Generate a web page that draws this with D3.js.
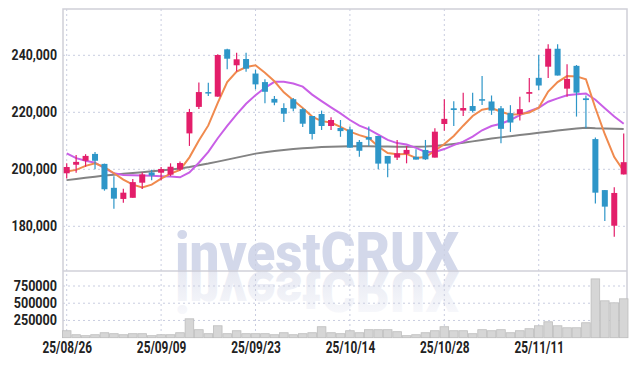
<!DOCTYPE html>
<html>
<head>
<meta charset="utf-8">
<script src="https://cdn.jsdelivr.net/npm/d3@7"></script>
<style>
  body { margin: 0; background: #fff; }
  .lbl text { font-family: Roboto, 'DejaVu Sans', sans-serif; fill: #222; font-weight: bold; }
</style>
</head>
<body>
<div id="chart"></div>
<script>
const dates = ['25/08/26','25/08/27','25/08/28','25/08/29','25/09/01','25/09/02','25/09/03','25/09/04','25/09/05','25/09/08',
  '25/09/09','25/09/10','25/09/11','25/09/12','25/09/15','25/09/16','25/09/17','25/09/18','25/09/19','25/09/22',
  '25/09/23','25/09/24','25/09/25','25/09/26','25/09/29','25/09/30','25/10/01','25/10/02','25/10/10','25/10/13',
  '25/10/14','25/10/15','25/10/16','25/10/17','25/10/20','25/10/21','25/10/22','25/10/23','25/10/24','25/10/27',
  '25/10/28','25/10/29','25/10/30','25/10/31','25/11/03','25/11/04','25/11/05','25/11/06','25/11/07','25/11/10',
  '25/11/11','25/11/12','25/11/13','25/11/14','25/11/17','25/11/18','25/11/19','25/11/20','25/11/21','25/11/24'];

const opens = [198600,201600,203000,205400,201900,193500,189600,190000,195300,198900,
  198800,198100,199900,212600,221900,227100,225500,242100,236500,238700,
  233600,230600,224700,221500,224600,221100,218700,219400,215200,214500,
  214000,209600,211300,211700,204700,204100,205400,204400,206800,204100,
  215900,221400,220600,222200,224600,223800,221400,219700,219400,226500,
  232100,236000,242300,228300,236300,224900,210600,192700,180200,198200];
const highs = [202100,205000,205300,206100,202000,197600,193200,196600,198900,199800,
  200800,202100,202700,221200,230500,230400,240400,242300,240900,240900,
  234900,231600,225700,223200,225000,221500,218700,220600,218300,217300,
  215000,210300,215000,211700,204700,210300,208200,207000,210300,214400,
  224600,223900,226900,226900,232700,225900,222200,222500,225500,232000,
  240100,243900,243900,236900,236600,225900,211200,192700,193700,212600];
const lows = [196800,198800,200900,200000,192500,186200,188300,190000,193100,196200,
  196200,197600,199500,208200,221200,225700,225500,235100,234300,234200,
  228100,223200,222500,216600,220400,214800,210500,213800,213800,211400,
  207600,204400,208200,200000,197200,203300,202100,203400,203300,204100,
  213500,215200,218700,219900,222600,219100,209100,213100,217100,223500,
  227800,232000,232900,225500,218500,214400,188000,181900,176300,198200];
const closes = [200800,202600,204700,203000,193000,189700,191800,195500,198200,197800,
  200100,200900,202200,220100,227100,226900,240100,238800,238600,235300,
  229800,227200,223400,219500,221300,216000,212400,215200,217300,213400,
  207600,206500,210400,202000,202000,205600,206800,203400,203500,213200,
  217700,220800,221500,220500,224200,220600,214200,216400,221100,227100,
  229400,242300,232900,231700,226900,224300,191800,186900,191700,202500];
const volumes = [101000,43000,29000,43000,72000,58000,43000,58000,58000,29000,
  43000,43000,72000,274000,116000,58000,173000,58000,101000,58000,
  58000,58000,43000,72000,43000,58000,72000,159000,72000,58000,
  101000,72000,116000,116000,116000,87000,29000,43000,72000,101000,
  159000,101000,101000,58000,116000,101000,116000,72000,101000,130000,
  173000,231000,173000,144000,144000,217000,853000,535000,506000,564000];

const ma5 = [199200,199800,201200,202100,200800,198600,196400,194600,193600,194600,
  196700,198500,199800,204200,210100,215400,223300,230600,234300,235900,
  236500,233900,230900,227000,224200,221500,218500,216900,216400,214900,
  213200,212000,211000,208000,205700,205300,205400,204000,204300,206500,
  208900,211700,215300,218700,220900,221500,220200,219200,219300,219900,
  221600,227300,230600,232700,232600,231600,221500,212300,204300,199400];
const ma10 = [205600,203900,203000,202300,200400,198600,198000,197900,197800,197700,
  197600,197500,197200,198900,202300,206100,210900,215200,219300,223000,
  226000,228600,230700,230700,230100,229000,226200,223900,221700,219600,
  217300,215300,214000,212200,210300,209200,208700,207500,206100,206100,
  207100,208500,209700,211500,213700,215200,216000,217300,219000,220400,
  221600,223700,224900,226000,226300,226600,224400,221400,218500,216000];
const maLong = [196200,196600,197000,197400,197800,198100,198400,198700,199000,199300,
  199600,199900,200300,200800,201400,202000,202700,203400,204100,204800,
  205500,206000,206400,206800,207100,207400,207600,207800,207900,208000,
  208100,208100,208100,208000,208000,207900,207900,207900,208000,208200,
  208500,208900,209300,209800,210300,210800,211200,211600,212000,212400,
  212800,213200,213600,214000,214300,214600,214400,214300,214200,214100];

const priceTicks = [180000, 200000, 220000, 240000];
const volTicks = [250000, 500000, 750000];
const dateTicks = [0, 10, 20, 30, 40, 50];

const width = 637, height = 366;
const plotL = 63, plotR = 627, plotT = 9, plotMid = 271, plotB = 337.7;

const svg = d3.select('#chart').append('svg')
  .attr('width', width).attr('height', height);

const x = d3.scaleLinear().domain([0, 59]).range([66.7, 623.7]);
const y = d3.scaleLinear().domain([180000, 240000]).range([226.3, 55.3]);
const yv = d3.scaleLinear().domain([0, 750000]).range([plotB, 286]);

// fading gradient for the watermark reflection
const grad = svg.append('defs').append('linearGradient')
  .attr('id', 'fade').attr('x1', 0).attr('x2', 0).attr('y1', 0).attr('y2', 1);
grad.append('stop').attr('offset', '0%').attr('stop-color', '#fbfbfd');
grad.append('stop').attr('offset', '100%').attr('stop-color', '#e2e5f0');

// watermark + reflection
const wm = svg.append('g').style('font-family', 'Roboto, Arial, sans-serif')
  .style('font-weight', '900').style('font-size', '56px');
wm.append('text')
  .attr('x', 175).attr('y', 272)
  .attr('textLength', 284).attr('lengthAdjust', 'spacingAndGlyphs')
  .style('fill', '#d3d8ea')
  .text('investCRUX');
wm.append('text')
  .attr('x', 175).attr('y', 273)
  .attr('transform', 'translate(0,545) scale(1,-1)')
  .attr('textLength', 284).attr('lengthAdjust', 'spacingAndGlyphs')
  .style('fill', 'url(#fade)')
  .text('investCRUX');

// grids
const grid = svg.append('g').attr('stroke', '#c9cde0').attr('stroke-dasharray', '2,3').attr('stroke-width', 1);
grid.selectAll('.vg').data(dateTicks).enter().append('line')
  .attr('x1', d => x(d)).attr('x2', d => x(d)).attr('y1', plotT).attr('y2', plotB);
grid.selectAll('.hg').data(priceTicks).enter().append('line')
  .attr('x1', plotL).attr('x2', plotR).attr('y1', d => y(d)).attr('y2', d => y(d));
grid.selectAll('.hv').data(volTicks).enter().append('line')
  .attr('x1', plotL).attr('x2', plotR).attr('y1', d => yv(d)).attr('y2', d => yv(d));

// frame
const frame = svg.append('g').attr('stroke', '#d0d0d8').attr('stroke-width', 1.5).attr('fill', 'none');
frame.append('path').attr('d', `M${plotL},${plotB}V${plotT}H${plotR}V${plotB}`);
frame.append('line').attr('x1', plotL).attr('x2', plotR).attr('y1', plotMid).attr('y2', plotMid);

// volume bars
const bw = 8.6;
svg.append('g').selectAll('rect').data(volumes).enter().append('rect')
  .attr('x', (d, i) => x(i) - bw / 2)
  .attr('y', d => yv(d))
  .attr('width', bw)
  .attr('height', d => plotB - yv(d))
  .attr('fill', '#d6d6d6')
  .attr('stroke', '#bdbdbd')
  .attr('stroke-width', 0.8);

// moving averages
const line = arr => d3.line().x((d, i) => x(i)).y(d => y(d))(arr);
svg.append('path').attr('d', line(maLong)).attr('fill', 'none').attr('stroke', '#838383').attr('stroke-width', 2);
svg.append('path').attr('d', line(ma10)).attr('fill', 'none').attr('stroke', '#c95fe6').attr('stroke-width', 2);
svg.append('path').attr('d', line(ma5)).attr('fill', 'none').attr('stroke', '#f08a4e').attr('stroke-width', 2);

// candles
const up = '#e31e6a', down = '#2e96c8';
const cw = 6;
const candles = svg.append('g').selectAll('g').data(dates).enter().append('g');
candles.append('line')
  .attr('x1', (d, i) => x(i)).attr('x2', (d, i) => x(i))
  .attr('y1', (d, i) => y(highs[i])).attr('y2', (d, i) => y(lows[i]))
  .attr('stroke', (d, i) => closes[i] >= opens[i] ? up : down)
  .attr('stroke-width', 1.2);
candles.append('rect')
  .attr('x', (d, i) => x(i) - cw / 2)
  .attr('y', (d, i) => y(Math.max(opens[i], closes[i])))
  .attr('width', cw)
  .attr('height', (d, i) => Math.max(1.5, Math.abs(y(opens[i]) - y(closes[i]))))
  .attr('fill', (d, i) => closes[i] >= opens[i] ? up : down);

// axes labels (narrowed horizontally to mimic the condensed face)
function squeeze(sel, s) {
  sel.each(function () {
    const t = d3.select(this);
    t.attr('x', +t.attr('x') / s).attr('transform', `scale(${s},1)`);
  });
}

const yAxis = d3.axisLeft(y).tickValues(priceTicks).tickFormat(d3.format(',')).tickSize(0).tickPadding(6);
svg.append('g').attr('class', 'lbl').attr('transform', `translate(${plotL},0)`).call(yAxis)
  .call(g => g.select('.domain').remove())
  .selectAll('text').style('font-size', '14px').call(squeeze, 0.88);

const vAxis = d3.axisLeft(yv).tickValues(volTicks).tickFormat(d3.format('d')).tickSize(0).tickPadding(6);
svg.append('g').attr('class', 'lbl').attr('transform', `translate(${plotL},0)`).call(vAxis)
  .call(g => g.select('.domain').remove())
  .selectAll('text').style('font-size', '14px').call(squeeze, 0.9);

const xAxis = d3.axisBottom(x).tickValues(dateTicks).tickFormat(i => dates[i]).tickSize(0).tickPadding(4);
svg.append('g').attr('class', 'lbl').attr('transform', `translate(0,${plotB})`).call(xAxis)
  .call(g => g.select('.domain').remove())
  .selectAll('text').style('font-size', '16px').call(squeeze, 0.74);
</script>
</body>
</html>
